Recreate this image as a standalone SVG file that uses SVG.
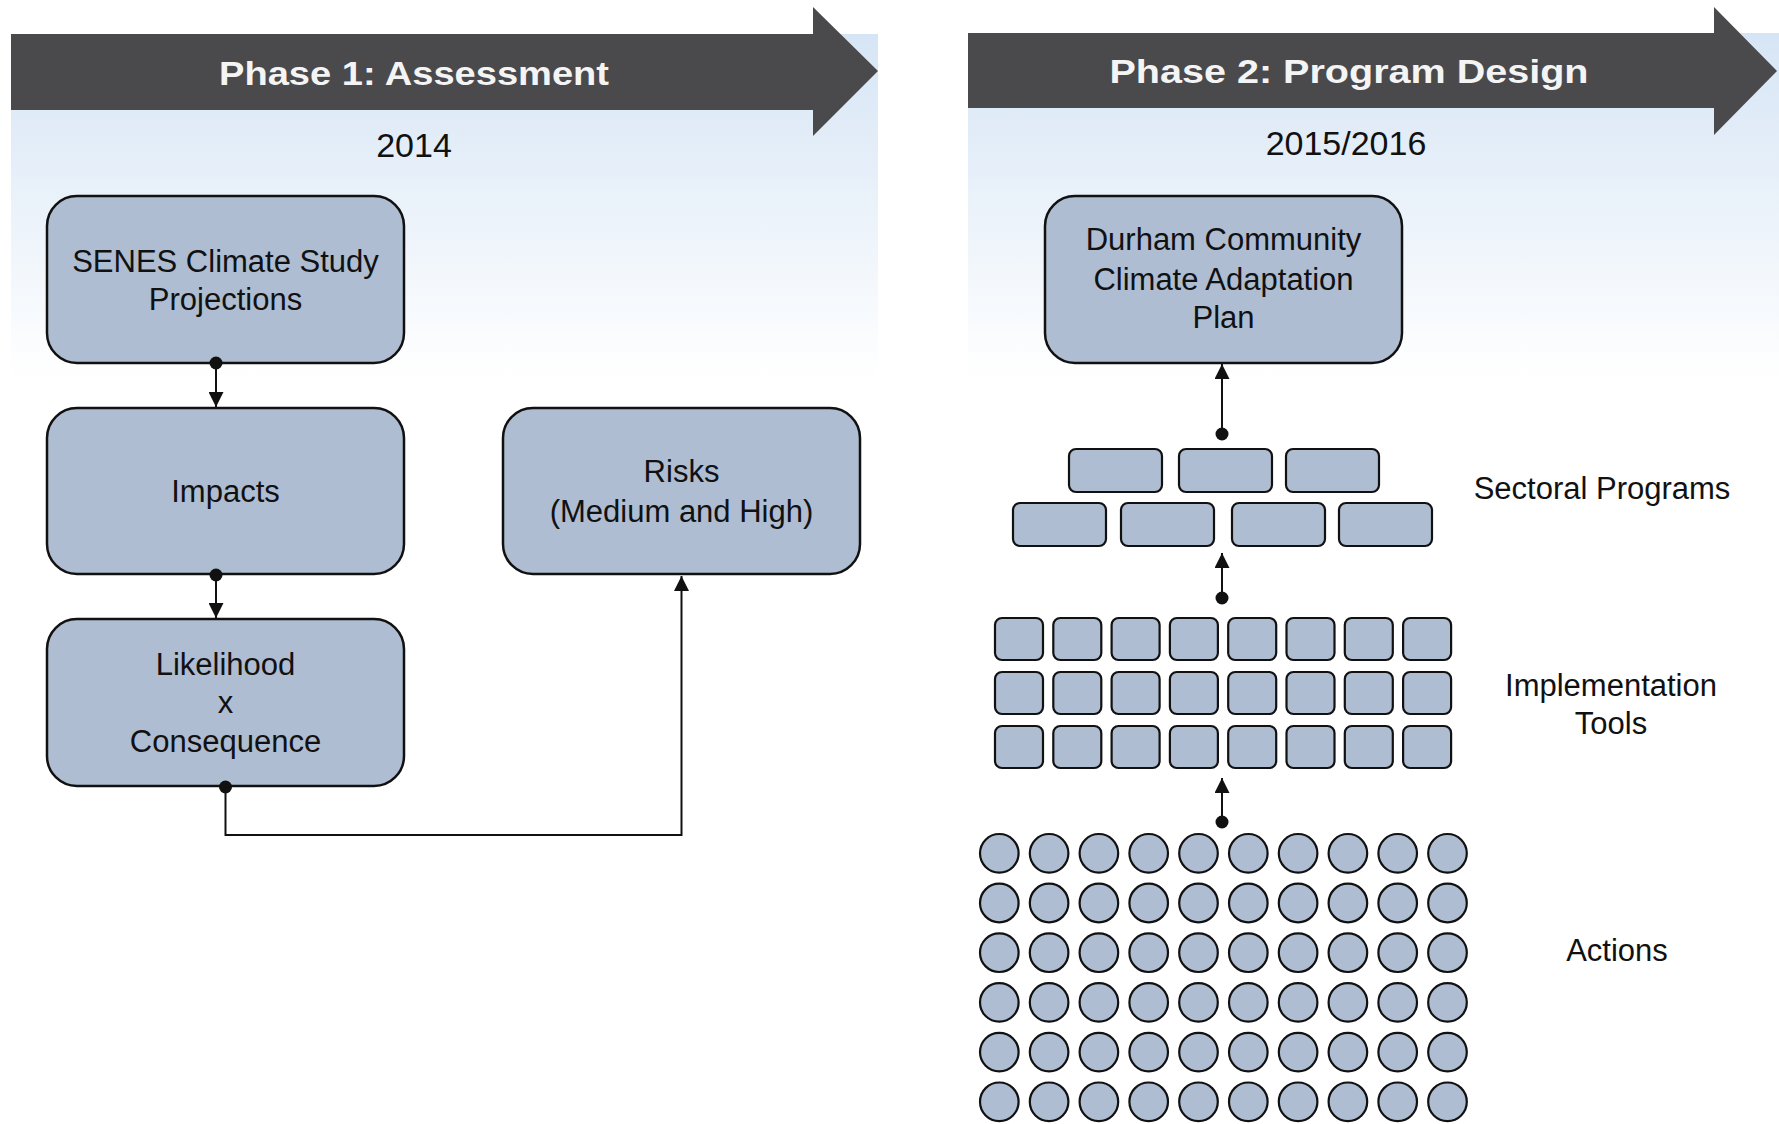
<svg xmlns="http://www.w3.org/2000/svg" xmlns:xlink="http://www.w3.org/1999/xlink" width="1779" height="1124" viewBox="0 0 1779 1124">
<style>
.bg{fill:url(#fade)}
.banner{fill:#4a4a4c}
.htxt{font-family:"Liberation Sans",Arial,sans-serif;font-weight:bold;font-size:34px;fill:#f4f4f4;text-anchor:middle}
.yr{font-family:"Liberation Sans",Arial,sans-serif;font-size:34px;fill:#111;text-anchor:middle}
.box{fill:#aebdd1;stroke:#111;stroke-width:2.5}
.sm{fill:#aebdd1;stroke:#111;stroke-width:2.2}
.t{font-family:"Liberation Sans",Arial,sans-serif;font-size:31px;fill:#111;text-anchor:middle}
.con{fill:none;stroke:#111;stroke-width:2}
</style>
<defs>
<linearGradient id="fade" x1="0" y1="34" x2="0" y2="378" gradientUnits="userSpaceOnUse">
<stop offset="0" stop-color="#d6e5f5"/>
<stop offset="1" stop-color="#ffffff"/>
</linearGradient>
<marker id="arr" markerUnits="userSpaceOnUse" markerWidth="15" markerHeight="15" refX="15" refY="7.5" orient="auto" viewBox="0 0 15 15">
<path d="M0,0 L15,7.5 L0,15 z" fill="#111"/>
</marker>
<marker id="dot" markerUnits="userSpaceOnUse" markerWidth="14" markerHeight="14" refX="7" refY="7" orient="auto" viewBox="0 0 14 14">
<circle cx="7" cy="7" r="6.5" fill="#111"/>
</marker>
</defs>
<rect width="1779" height="1124" fill="#ffffff"/>
<rect class="bg" x="11" y="34" width="867" height="344"/>
<rect class="bg" x="968" y="33" width="811" height="345"/>

<g id="phase1">
<polygon class="banner" points="11,34 813,34 813,7 878,71 813,136 813,110 11,110"/>
<text class="htxt" x="414" y="85" textLength="390" lengthAdjust="spacingAndGlyphs">Phase 1: Assessment</text>
<text class="yr" x="414" y="157">2014</text>
</g>
<g id="phase2">
<polygon class="banner" points="968,33 1714,33 1714,7 1777,71 1714,135 1714,108 968,108"/>
<text class="htxt" x="1349" y="83" textLength="479" lengthAdjust="spacingAndGlyphs">Phase 2: Program Design</text>
<text class="yr" x="1346" y="155">2015/2016</text>
</g>

<g id="senes"><rect class="box" x="47" y="196" width="357" height="167" rx="30"/>
<text class="t" x="225.5" y="272">SENES Climate Study</text><text class="t" x="225.5" y="310">Projections</text></g>
<g id="impacts"><rect class="box" x="47" y="408" width="357" height="166" rx="30"/>
<text class="t" x="225.5" y="502">Impacts</text></g>
<g id="likelihood"><rect class="box" x="47" y="619" width="357" height="167" rx="30"/>
<text class="t" x="225.5" y="675">Likelihood</text><text class="t" x="225.5" y="713">x</text><text class="t" x="225.5" y="752">Consequence</text></g>
<g id="risks"><rect class="box" x="503" y="408" width="357" height="166" rx="30"/>
<text class="t" x="681.5" y="482">Risks</text><text class="t" x="681.5" y="522">(Medium and High)</text></g>

<g id="durham"><rect class="box" x="1045" y="196" width="357" height="167" rx="30"/>
<text class="t" x="1223.5" y="250">Durham Community</text><text class="t" x="1223.5" y="290">Climate Adaptation</text><text class="t" x="1223.5" y="328">Plan</text></g>

<g id="sectoral">
<g id="sp1"><rect class="sm" x="1069" y="449" width="93" height="43" rx="7"/></g>
<g id="sp2"><rect class="sm" x="1179" y="449" width="93" height="43" rx="7"/></g>
<g id="sp3"><rect class="sm" x="1286" y="449" width="93" height="43" rx="7"/></g>
<g id="sp4"><rect class="sm" x="1013" y="503" width="93" height="43" rx="7"/></g>
<g id="sp5"><rect class="sm" x="1121" y="503" width="93" height="43" rx="7"/></g>
<g id="sp6"><rect class="sm" x="1232" y="503" width="93" height="43" rx="7"/></g>
<g id="sp7"><rect class="sm" x="1339" y="503" width="93" height="43" rx="7"/></g>
<text class="t" x="1602" y="499">Sectoral Programs</text>
</g>

<g id="tools">
<g id="tl1"><rect class="sm" x="995" y="618" width="48" height="42" rx="7"/></g>
<g id="tl2"><rect class="sm" x="1053.3" y="618" width="48" height="42" rx="7"/></g>
<g id="tl3"><rect class="sm" x="1111.6" y="618" width="48" height="42" rx="7"/></g>
<g id="tl4"><rect class="sm" x="1169.9" y="618" width="48" height="42" rx="7"/></g>
<g id="tl5"><rect class="sm" x="1228.2" y="618" width="48" height="42" rx="7"/></g>
<g id="tl6"><rect class="sm" x="1286.5" y="618" width="48" height="42" rx="7"/></g>
<g id="tl7"><rect class="sm" x="1344.8" y="618" width="48" height="42" rx="7"/></g>
<g id="tl8"><rect class="sm" x="1403.1" y="618" width="48" height="42" rx="7"/></g>
<g id="tl9"><rect class="sm" x="995" y="672" width="48" height="42" rx="7"/></g>
<g id="tl10"><rect class="sm" x="1053.3" y="672" width="48" height="42" rx="7"/></g>
<g id="tl11"><rect class="sm" x="1111.6" y="672" width="48" height="42" rx="7"/></g>
<g id="tl12"><rect class="sm" x="1169.9" y="672" width="48" height="42" rx="7"/></g>
<g id="tl13"><rect class="sm" x="1228.2" y="672" width="48" height="42" rx="7"/></g>
<g id="tl14"><rect class="sm" x="1286.5" y="672" width="48" height="42" rx="7"/></g>
<g id="tl15"><rect class="sm" x="1344.8" y="672" width="48" height="42" rx="7"/></g>
<g id="tl16"><rect class="sm" x="1403.1" y="672" width="48" height="42" rx="7"/></g>
<g id="tl17"><rect class="sm" x="995" y="726" width="48" height="42" rx="7"/></g>
<g id="tl18"><rect class="sm" x="1053.3" y="726" width="48" height="42" rx="7"/></g>
<g id="tl19"><rect class="sm" x="1111.6" y="726" width="48" height="42" rx="7"/></g>
<g id="tl20"><rect class="sm" x="1169.9" y="726" width="48" height="42" rx="7"/></g>
<g id="tl21"><rect class="sm" x="1228.2" y="726" width="48" height="42" rx="7"/></g>
<g id="tl22"><rect class="sm" x="1286.5" y="726" width="48" height="42" rx="7"/></g>
<g id="tl23"><rect class="sm" x="1344.8" y="726" width="48" height="42" rx="7"/></g>
<g id="tl24"><rect class="sm" x="1403.1" y="726" width="48" height="42" rx="7"/></g>
<text class="t" x="1611" y="696">Implementation</text>
<text class="t" x="1611" y="734">Tools</text>
</g>

<g id="actions">
<g id="ac-r1">
<circle class="sm" cx="999.3" cy="853.3" r="19.3"/><circle class="sm" cx="1049.1" cy="853.3" r="19.3"/><circle class="sm" cx="1098.9" cy="853.3" r="19.3"/><circle class="sm" cx="1148.7" cy="853.3" r="19.3"/><circle class="sm" cx="1198.5" cy="853.3" r="19.3"/><circle class="sm" cx="1248.3" cy="853.3" r="19.3"/><circle class="sm" cx="1298.1" cy="853.3" r="19.3"/><circle class="sm" cx="1347.9" cy="853.3" r="19.3"/><circle class="sm" cx="1397.7" cy="853.3" r="19.3"/><circle class="sm" cx="1447.5" cy="853.3" r="19.3"/>
</g>
<g id="ac-r2">
<circle class="sm" cx="999.3" cy="903" r="19.3"/><circle class="sm" cx="1049.1" cy="903" r="19.3"/><circle class="sm" cx="1098.9" cy="903" r="19.3"/><circle class="sm" cx="1148.7" cy="903" r="19.3"/><circle class="sm" cx="1198.5" cy="903" r="19.3"/><circle class="sm" cx="1248.3" cy="903" r="19.3"/><circle class="sm" cx="1298.1" cy="903" r="19.3"/><circle class="sm" cx="1347.9" cy="903" r="19.3"/><circle class="sm" cx="1397.7" cy="903" r="19.3"/><circle class="sm" cx="1447.5" cy="903" r="19.3"/>
</g>
<g id="ac-r3">
<circle class="sm" cx="999.3" cy="952.7" r="19.3"/><circle class="sm" cx="1049.1" cy="952.7" r="19.3"/><circle class="sm" cx="1098.9" cy="952.7" r="19.3"/><circle class="sm" cx="1148.7" cy="952.7" r="19.3"/><circle class="sm" cx="1198.5" cy="952.7" r="19.3"/><circle class="sm" cx="1248.3" cy="952.7" r="19.3"/><circle class="sm" cx="1298.1" cy="952.7" r="19.3"/><circle class="sm" cx="1347.9" cy="952.7" r="19.3"/><circle class="sm" cx="1397.7" cy="952.7" r="19.3"/><circle class="sm" cx="1447.5" cy="952.7" r="19.3"/>
</g>
<g id="ac-r4">
<circle class="sm" cx="999.3" cy="1002.4" r="19.3"/><circle class="sm" cx="1049.1" cy="1002.4" r="19.3"/><circle class="sm" cx="1098.9" cy="1002.4" r="19.3"/><circle class="sm" cx="1148.7" cy="1002.4" r="19.3"/><circle class="sm" cx="1198.5" cy="1002.4" r="19.3"/><circle class="sm" cx="1248.3" cy="1002.4" r="19.3"/><circle class="sm" cx="1298.1" cy="1002.4" r="19.3"/><circle class="sm" cx="1347.9" cy="1002.4" r="19.3"/><circle class="sm" cx="1397.7" cy="1002.4" r="19.3"/><circle class="sm" cx="1447.5" cy="1002.4" r="19.3"/>
</g>
<g id="ac-r5">
<circle class="sm" cx="999.3" cy="1052.1" r="19.3"/><circle class="sm" cx="1049.1" cy="1052.1" r="19.3"/><circle class="sm" cx="1098.9" cy="1052.1" r="19.3"/><circle class="sm" cx="1148.7" cy="1052.1" r="19.3"/><circle class="sm" cx="1198.5" cy="1052.1" r="19.3"/><circle class="sm" cx="1248.3" cy="1052.1" r="19.3"/><circle class="sm" cx="1298.1" cy="1052.1" r="19.3"/><circle class="sm" cx="1347.9" cy="1052.1" r="19.3"/><circle class="sm" cx="1397.7" cy="1052.1" r="19.3"/><circle class="sm" cx="1447.5" cy="1052.1" r="19.3"/>
</g>
<g id="ac-r6">
<circle class="sm" cx="999.3" cy="1101.8" r="19.3"/><circle class="sm" cx="1049.1" cy="1101.8" r="19.3"/><circle class="sm" cx="1098.9" cy="1101.8" r="19.3"/><circle class="sm" cx="1148.7" cy="1101.8" r="19.3"/><circle class="sm" cx="1198.5" cy="1101.8" r="19.3"/><circle class="sm" cx="1248.3" cy="1101.8" r="19.3"/><circle class="sm" cx="1298.1" cy="1101.8" r="19.3"/><circle class="sm" cx="1347.9" cy="1101.8" r="19.3"/><circle class="sm" cx="1397.7" cy="1101.8" r="19.3"/><circle class="sm" cx="1447.5" cy="1101.8" r="19.3"/>
</g>
<text class="t" x="1617" y="961">Actions</text>
</g>

<g id="connectors">
<path class="con" d="M216,363 L216,407" marker-start="url(#dot)" marker-end="url(#arr)"/>
<path class="con" d="M216,575 L216,618" marker-start="url(#dot)" marker-end="url(#arr)"/>
<path class="con" d="M225.5,787 L225.5,835 L681.5,835 L681.5,576" marker-start="url(#dot)" marker-end="url(#arr)"/>
<path class="con" d="M1222,434 L1222,364" marker-start="url(#dot)" marker-end="url(#arr)"/>
<path class="con" d="M1222,598 L1222,553" marker-start="url(#dot)" marker-end="url(#arr)"/>
<path class="con" d="M1222,822 L1222,778" marker-start="url(#dot)" marker-end="url(#arr)"/>
</g>
</svg>
